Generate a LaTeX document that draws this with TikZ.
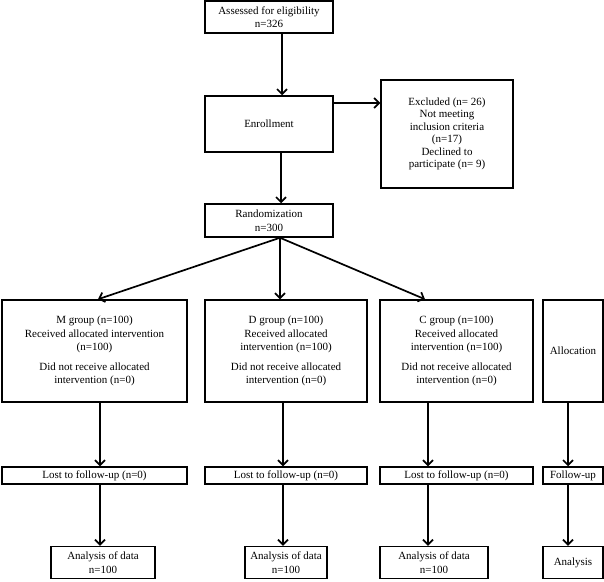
\documentclass[tikz,border=0pt]{standalone}
\usepackage{fontspec}
\setmainfont{Liberation Serif}
\usetikzlibrary{arrows.meta}
\begin{document}
\begin{tikzpicture}[x=1pt,y=-1pt,
  box/.style={draw, line width=1.5pt, align=center, inner sep=0pt, font=\fontsize{11}{13.5}\selectfont},
  arr/.style={line width=1.7pt, -{Straight Barb[length=5pt,width=10pt]}}]
\useasboundingbox (0,0) rectangle (604,581);
\fill[white] (0,0) rectangle (604,581);
% top column
\node[box, minimum width=128, minimum height=32] (assess) at (269,17) {Assessed for eligibility\\n=326};
\node[box, minimum width=128, minimum height=56] (enroll) at (269,124) {Enrollment};
\node[box, minimum width=132, minimum height=108, font=\fontsize{11}{12.5}\selectfont] (excl) at (447,134) {Excluded (n= 26)\\Not meeting\\inclusion criteria\\(n=17)\\Declined to\\participate (n= 9)};
\node[box, minimum width=128, minimum height=33] (rand) at (269,220.5) {Randomization\\n=300};
% groups
\node[box, minimum width=185, minimum height=102] (gM) at (94.5,351) {M group (n=100)\\Received allocated intervention\\(n=100)\\[6pt]Did not receive allocated\\intervention (n=0)};
\node[box, minimum width=162, minimum height=102] (gD) at (286,351) {D group (n=100)\\Received allocated\\intervention (n=100)\\[6pt]Did not receive allocated\\intervention (n=0)};
\node[box, minimum width=153, minimum height=102] (gC) at (456.5,351) {C group (n=100)\\Received allocated\\intervention (n=100)\\[6pt]Did not receive allocated\\intervention (n=0)};
\node[box, minimum width=60, minimum height=102] (gA) at (573,351) {Allocation};
% lost
\node[box, minimum width=185, minimum height=17] (lM) at (94.5,475.5) {Lost to follow-up (n=0)};
\node[box, minimum width=162, minimum height=17] (lD) at (286,475.5) {Lost to follow-up (n=0)};
\node[box, minimum width=153, minimum height=17] (lC) at (456.5,475.5) {Lost to follow-up (n=0)};
\node[box, minimum width=60, minimum height=17] (lA) at (573,475.5) {Follow-up};
% analysis
\node[box, minimum width=104, minimum height=32] (aM) at (103,562.5) {Analysis of data\\n=100};
\node[box, minimum width=82, minimum height=32] (aD) at (286,562.5) {Analysis of data\\n=100};
\node[box, minimum width=108, minimum height=32] (aC) at (434,562.5) {Analysis of data\\n=100};
\node[box, minimum width=60, minimum height=32] (aA) at (573,562.5) {Analysis};
% connectors
\draw[arr] ([xshift=13pt]assess.south) -- ([xshift=13pt]enroll.north);
\draw[arr] ([yshift=21pt]enroll.east) -- ([yshift=21pt]enroll.east -| excl.west);
\draw[arr] ([xshift=12pt]enroll.south) -- ([xshift=12pt]rand.north);
\draw[arr] ([xshift=11pt]rand.south) -- ([xshift=3.5pt]gM.north);
\draw[arr] ([xshift=11pt]rand.south) -- ([xshift=-6pt]gD.north);
\draw[arr] ([xshift=11pt]rand.south) -- ([xshift=-31.5pt]gC.north);
\draw[arr] ([xshift=5.5pt]gM.south) -- ([xshift=5.5pt]gM.south |- lM.north);
\draw[arr] ([xshift=-3pt]gD.south) -- ([xshift=-3pt]gD.south |- lD.north);
\draw[arr] ([xshift=-28.5pt]gC.south) -- ([xshift=-28.5pt]gC.south |- lC.north);
\draw[arr] ([xshift=-5pt]gA.south) -- ([xshift=-5pt]gA.south |- lA.north);
\draw[arr] ([xshift=5.5pt]lM.south) -- ([xshift=5.5pt]lM.south |- aM.north);
\draw[arr] ([xshift=-3pt]lD.south) -- ([xshift=-3pt]lD.south |- aD.north);
\draw[arr] ([xshift=-28.5pt]lC.south) -- ([xshift=-28.5pt]lC.south |- aC.north);
\draw[arr] ([xshift=-5pt]lA.south) -- ([xshift=-5pt]lA.south |- aA.north);
\end{tikzpicture}
\end{document}
